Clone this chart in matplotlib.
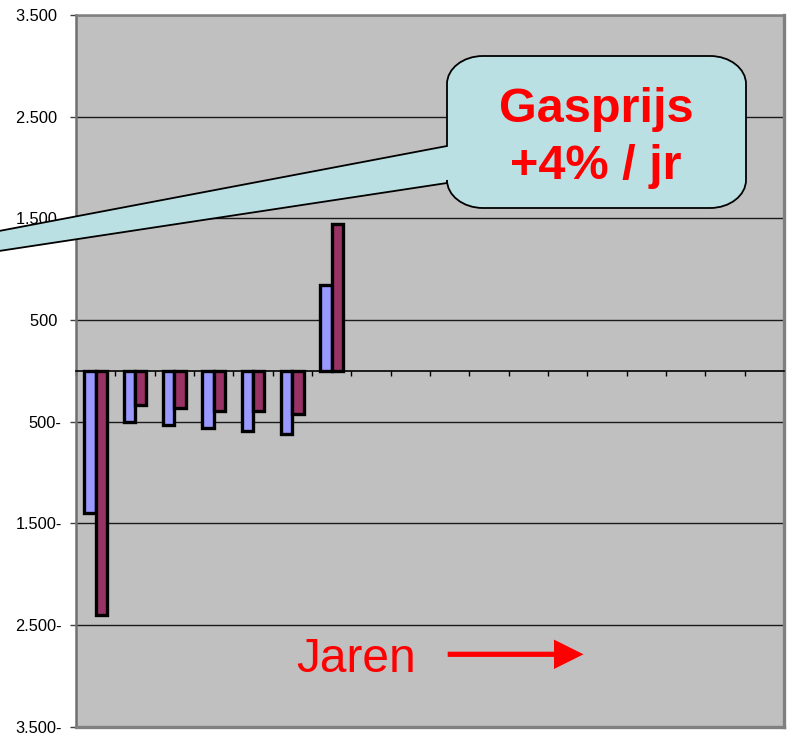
import numpy as np
import matplotlib
matplotlib.use("Agg")
import matplotlib.pyplot as plt
from matplotlib.path import Path
from matplotlib.patches import PathPatch, Polygon

plt.rcParams['font.family'] = ['Liberation Sans', 'DejaVu Sans']

# --- data -------------------------------------------------------------
n_years = 18
cost_a = [-1400, -505, -535, -563, -592, -622, 840]      # light blue series
cost_b = [-2400, -338, -362, -393, -393, -424, 1440]     # maroon series
y_ticks = [3500, 2500, 1500, 500, -500, -1500, -2500, -3500]
y_labels = ["3.500 ", "2.500 ", "1.500 ", "500 ", "500-", "1.500-", "2.500-", "3.500-"]
callout_lines = ["Gasprijs", "+4% / jr"]
axis_note = "Jaren"

W, H = 787, 739
fig = plt.figure(figsize=(W / 100, H / 100), dpi=100)
fig.patch.set_facecolor('white')


def px(x, y):
    """pixel position (from top-left) -> figure fraction"""
    return (x / W, 1 - y / H)


left, right, top, bottom = 76, 784, 15, 726.7
ax = fig.add_axes([left / W, 1 - bottom / H, (right - left) / W, (bottom - top) / H])
ax.set_facecolor('#C0C0C0')
ax.set_xlim(0, n_years)
ax.set_ylim(-3500, 3500)

# bars
bw = 0.29
xa = np.arange(len(cost_a)) + 0.5 - bw / 2
xb = np.arange(len(cost_b)) + 0.5 + bw / 2
ax.bar(xa, cost_a, width=bw, color='#9999FF', edgecolor='black', linewidth=2.4, zorder=3)
ax.bar(xb, cost_b, width=bw, color='#993366', edgecolor='black', linewidth=2.4, zorder=3)

# y axis
ax.set_yticks(y_ticks)
ax.set_yticklabels(y_labels, fontsize=11.8)
ax.tick_params(axis='y', direction='out', length=4.3, width=1, color='#404040', pad=6)
ax.yaxis.grid(True, color='#1a1a1a', linewidth=1)
ax.set_axisbelow(True)

# category axis along zero
ax.spines['bottom'].set_position(('data', 0))
ax.spines['bottom'].set_color('black')
ax.spines['bottom'].set_linewidth(1.2)
ax.spines['bottom'].set_zorder(4)
ax.set_xticks(np.arange(0, n_years + 1))
ax.set_xticklabels([])
ax.tick_params(axis='x', direction='out', length=3.6, width=1, color='black')

# plot frame
ax.spines['left'].set_color('#707070')
ax.spines['left'].set_linewidth(1.8)
ax.spines['top'].set_color('#808080')
ax.spines['top'].set_linewidth(1.8)
ax.spines['right'].set_color('#808080')
ax.spines['right'].set_linewidth(2.4)
ax.plot([0, 1], [0, 0], transform=ax.transAxes, color='#808080', lw=2.4,
        clip_on=False, zorder=5, solid_capstyle='projecting')

# callout bubble with a long pointer
x0, x1, y0, y1 = 447, 746, 56, 208
rx, ry = 36, 28
k = 0.5523
wedge_top, wedge_bot = 146, 183
tip = (-528, 331)
verts = [
    (x0 + rx, y0),
    (x1 - rx, y0),
    (x1 - rx + k * rx, y0), (x1, y0 + ry - k * ry), (x1, y0 + ry),
    (x1, y1 - ry),
    (x1, y1 - ry + k * ry), (x1 - rx + k * rx, y1), (x1 - rx, y1),
    (x0 + rx, y1),
    (x0 + rx - k * rx, y1), (x0, y1 - ry + k * ry), (x0, y1 - ry),
    (x0, wedge_bot),
    tip,
    (x0, wedge_top),
    (x0, y0 + ry),
    (x0, y0 + ry - k * ry), (x0 + rx - k * rx, y0), (x0 + rx, y0),
    (x0 + rx, y0),
]
codes = [Path.MOVETO, Path.LINETO,
         Path.CURVE4, Path.CURVE4, Path.CURVE4,
         Path.LINETO,
         Path.CURVE4, Path.CURVE4, Path.CURVE4,
         Path.LINETO,
         Path.CURVE4, Path.CURVE4, Path.CURVE4,
         Path.LINETO, Path.LINETO, Path.LINETO, Path.LINETO,
         Path.CURVE4, Path.CURVE4, Path.CURVE4,
         Path.CLOSEPOLY]
bubble = PathPatch(Path([px(*v) for v in verts], codes), transform=fig.transFigure,
                   facecolor='#BAE0E3', edgecolor='black', linewidth=1.3, zorder=10)
fig.add_artist(bubble)
fig.text(*px(596.5, 122), callout_lines[0], fontsize=35, fontweight='bold', color='#FF0000',
         ha='center', va='baseline', zorder=11)
fig.text(*px(596, 179), callout_lines[1], fontsize=35, fontweight='bold', color='#FF0000',
         ha='center', va='baseline', zorder=11)

# "Jaren" with arrow
fig.text(*px(296, 672), axis_note, fontsize=34.5, color='#FF0000', ha='left', va='baseline',
         zorder=11)
ay = 654.3
arrow_pts = [(447.7, ay - 2.6), (554, ay - 2.6), (554, ay - 14.7), (583.5, ay),
             (554, ay + 14.7), (554, ay + 2.6), (447.7, ay + 2.6)]
fig.add_artist(Polygon([px(*p) for p in arrow_pts], closed=True, transform=fig.transFigure,
                       facecolor='#FF0000', edgecolor='none', zorder=11))

fig.savefig('out.png', dpi=100)
